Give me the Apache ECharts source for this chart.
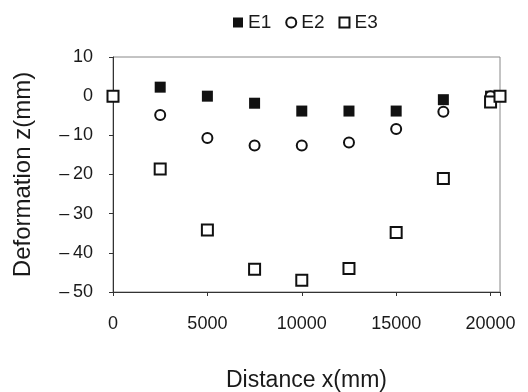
<!DOCTYPE html>
<html>
<head>
<meta charset="utf-8">
<script src="https://cdn.jsdelivr.net/npm/echarts@6/dist/echarts.min.js"></script>
<style>
html, body { margin: 0; padding: 0; background: #fff; }
#chart { width: 528px; height: 392px; }
</style>
</head>
<body>
<div id="chart"></div>
<script>
// deformation readings, x in mm
const e1X = [2500, 5000, 7500, 10000, 12500, 15000, 17500, 20000]
const e1Y = [2.3, 0, -1.8, -3.8, -3.8, -3.8, -0.9, 0]
const e2X = [2500, 5000, 7500, 10000, 12500, 15000, 17500, 20000]
const e2Y = [-4.8, -10.7, -12.6, -12.6, -11.8, -8.4, -4.0, 0]
const e3X = [0, 2500, 5000, 7500, 10000, 12500, 15000, 17500, 20000, 20500]
const e3Y = [0, -18.6, -34.2, -44.2, -47.0, -44.0, -34.8, -21.0, -1.5, 0]
const xTicks = [0, 5000, 10000, 15000, 20000]

const pairs = (xs, ys) => xs.map((x, i) => [x, ys[i]])
const font = 'Liberation Sans'
const ink = '#1a1a1a'

let chart = echarts.init(document.getElementById('chart'))
let option = {
  animation: false,
  textStyle: { fontFamily: font },
  legend: {
    top: 8,
    left: 228,
    itemGap: 14,
    itemWidth: 10,
    itemHeight: 10,
    textStyle: { fontSize: 19, color: ink, fontFamily: font },
    data: ['E1', 'E2', 'E3']
  },
  grid: {
    left: 113,
    right: 28,
    top: 57,
    bottom: 100,
    outerBoundsMode: 'none',
    show: true,
    borderColor: '#888',
    borderWidth: 1
  },
  xAxis: {
    type: 'value',
    min: 0,
    max: 20500,
    interval: 5000,
    name: 'Distance x(mm)',
    nameLocation: 'middle',
    nameGap: 77,
    nameTextStyle: { fontSize: 23, color: ink, fontFamily: font },
    axisLine: { onZero: false, lineStyle: { color: '#333' } },
    axisTick: { show: true, length: 4, lineStyle: { color: '#333' } },
    splitLine: { show: false },
    axisLabel: {
      fontSize: 18,
      color: ink,
      margin: 23,
      formatter: v => (xTicks.indexOf(v) >= 0 ? String(v) : '')
    }
  },
  yAxis: {
    type: 'value',
    min: -50,
    max: 10,
    interval: 10,
    name: 'Deformation z(mm)',
    nameLocation: 'middle',
    nameGap: 78,
    nameTextStyle: { fontSize: 24, color: ink, fontFamily: font },
    axisLine: { show: true, lineStyle: { color: '#333' } },
    axisTick: { show: true, length: 4, lineStyle: { color: '#333' } },
    splitLine: { show: false },
    axisLabel: {
      fontSize: 18,
      color: ink,
      margin: 20,
      formatter: v => (v < 0 ? '\u2013\u2009' + Math.abs(v) : String(v))
    }
  },
  series: [
    {
      name: 'E1',
      type: 'scatter',
      symbol: 'rect',
      symbolSize: 11,
      itemStyle: { color: '#111', opacity: 1 },
      data: pairs(e1X, e1Y),
      z: 3
    },
    {
      name: 'E2',
      type: 'scatter',
      symbol: 'emptyCircle',
      symbolSize: 10,
      itemStyle: { color: '#111', borderWidth: 2, opacity: 1 },
      data: pairs(e2X, e2Y),
      z: 4
    },
    {
      name: 'E3',
      type: 'scatter',
      symbol: 'emptyRect',
      symbolSize: 11,
      itemStyle: { color: '#111', borderWidth: 2, opacity: 1 },
      data: pairs(e3X, e3Y),
      z: 5
    }
  ]
}
chart.setOption(option)
</script>
</body>
</html>
